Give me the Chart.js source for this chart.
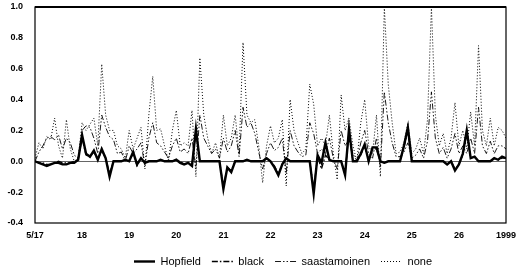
<!DOCTYPE html>
<html>
<head>
<meta charset="utf-8">
<script src="https://cdn.jsdelivr.net/npm/chart.js@4"></script>
<style>
  html, body { margin: 0; padding: 0; background: #fff; }
  #wrap { width: 518px; height: 274px; }
</style>
</head>
<body>
<div id="wrap"><canvas id="myChart" width="518" height="274"></canvas></div>
<script>
// day labels on the x axis, 12 samples per day
var tickLabels = ['5/17', '18', '19', '20', '21', '22', '23', '24', '25', '26', '1999'];
var perDay = 12;
var yTicks = [-0.4, -0.2, 0.0, 0.2, 0.4, 0.6, 0.8, 1.0];

var hopfield = [
  0, -0.01, -0.02, -0.03, -0.02, -0.01, -0.01, -0.02, -0.02, -0.01, -0.01, 0.01,
  0.17, 0.05, 0.03, 0.07, 0.01, 0.08, 0.02, -0.10, 0, 0, 0, 0.01,
  0, 0.06, -0.02, 0.02, -0.01, 0, 0, 0, 0.01, 0, 0, 0,
  0.01, -0.01, -0.02, -0.01, -0.03, 0.21, 0, 0, 0, 0, 0, 0,
  -0.18, -0.04, -0.07, 0, 0, 0, 0.01, 0, 0, 0, 0, 0.02,
  0, -0.04, -0.09, -0.02, 0.02, 0, 0, 0, 0, 0, 0, -0.21,
  0.04, -0.01, 0.12, 0.01, 0, 0, 0, -0.09, 0.21, 0, 0, 0.05,
  0.11, 0, 0.09, 0.09, 0, -0.01, 0, 0, 0, 0, 0.10, 0.22,
  0, 0, 0, 0, 0, 0, 0, 0, 0, -0.02, 0, -0.06,
  -0.02, 0.05, 0.20, 0.02, 0.03, 0, 0, 0, 0, 0.02, 0.01, 0.03,
  0.02
];

var black = [
  0, -0.01, -0.01, -0.02, -0.02, -0.01, 0, -0.01, -0.01, -0.01, 0, 0.01,
  0.15, 0.04, 0.03, 0.06, 0.01, 0.07, 0.02, -0.08, 0, 0, 0, 0.01,
  0, 0.05, -0.03, 0.02, -0.01, 0, 0, 0, 0.01, 0, 0, 0,
  0.01, 0, -0.02, -0.01, -0.02, 0.19, 0, 0, 0, 0, 0, 0,
  -0.16, -0.04, -0.06, 0, 0, 0, 0.01, 0, 0, 0, 0, 0.02,
  0, -0.03, -0.08, -0.02, 0.02, 0, 0, 0, 0, 0, 0, -0.18,
  0.03, -0.05, 0.04, 0.01, 0, 0, 0, -0.08, 0.19, 0, 0, 0.04,
  0.10, 0, 0.08, 0.08, 0, -0.01, 0, 0, 0, 0, 0.09, 0.20,
  0, 0, 0, 0, 0, 0, 0, 0, 0, -0.02, 0, -0.05,
  -0.02, 0.04, 0.18, 0.02, 0.03, 0, 0, 0, 0, 0.02, 0.01, 0.02,
  0.02
];

var saastamoinen = [
  0.0, 0.06, 0.10, 0.15, 0.16, 0.14, 0.17, 0.08, 0.15, 0.12, 0.04, 0.02,
  0.20, 0.23, 0.22, 0.15, 0.05, 0.30, 0.22, 0.16, 0.14, 0.05, 0.06, 0.00,
  0.10, 0.05, 0.08, 0.12, -0.03, 0.15, 0.25, 0.12, 0.10, 0.06, 0.02, 0.10,
  0.15, 0.06, 0.08, 0.05, 0.15, -0.05, 0.30, 0.15, 0.10, 0.05, 0.08, 0.02,
  0.15, 0.06, 0.10, 0.20, 0.03, 0.35, 0.22, 0.25, 0.18, 0.06, -0.05, 0.05,
  0.12, 0.07, 0.09, 0.15, -0.08, 0.20, 0.10, 0.06, 0.03, 0.04, 0.25, 0.18,
  0.05, 0.08, 0.05, 0.15, 0.02, -0.05, 0.20, 0.10, 0.14, 0.05, 0.00, 0.12,
  0.20, 0.05, 0.02, 0.15, -0.04, 0.45, 0.25, 0.12, 0.03, 0.03, 0.06, 0.12,
  0.02, 0.04, 0.08, 0.02, 0.13, 0.45, 0.15, 0.05, 0.09, 0.02, 0.08, 0.18,
  0.05, 0.10, 0.05, 0.15, 0.05, 0.35, 0.10, 0.05, 0.13, 0.05, 0.10, 0.10,
  0.08
];

var none = [
  0.02, 0.12, 0.08, 0.16, 0.14, 0.28, 0.10, 0.02, 0.27, 0.08, 0.00, 0.02,
  0.25, 0.20, 0.24, 0.28, 0.10, 0.63, 0.30, 0.20, 0.20, 0.10, 0.08, 0.02,
  0.20, 0.08, 0.15, 0.22, -0.05, 0.30, 0.55, 0.20, 0.21, 0.10, 0.00, 0.20,
  0.33, 0.10, 0.12, 0.10, 0.33, -0.10, 0.67, 0.30, 0.15, 0.05, 0.12, 0.02,
  0.30, 0.10, 0.15, 0.30, 0.05, 0.77, 0.30, 0.25, 0.27, 0.10, -0.14, 0.10,
  0.23, 0.12, 0.15, 0.27, -0.16, 0.40, 0.20, 0.12, 0.05, 0.08, 0.50, 0.37,
  0.10, 0.15, 0.10, 0.30, 0.05, -0.12, 0.43, 0.20, 0.28, 0.10, 0.00, 0.25,
  0.40, 0.10, 0.05, 0.30, -0.10, 1.00, 0.50, 0.25, 0.05, 0.06, 0.12, 0.25,
  0.05, 0.08, 0.15, 0.05, 0.27, 1.00, 0.30, 0.10, 0.18, 0.05, 0.15, 0.38,
  0.10, 0.20, 0.08, 0.32, 0.10, 0.75, 0.20, 0.10, 0.28, 0.10, 0.22, 0.20,
  0.15
];

function toPoints(arr) {
  return arr.map(function (v, i) { return { x: i, y: v }; });
}

function line(label, arr, width, dash) {
  return {
    label: label,
    data: toPoints(arr),
    borderColor: '#000',
    backgroundColor: '#000',
    borderWidth: width,
    borderDash: dash,
    pointRadius: 0,
    tension: 0,
    fill: false
  };
}

// frame around the plot area, legend nudged right like the original
var frame = {
  id: 'frame',
  afterLayout: function (chart) {
    chart.legend.left += 30;
    chart.legend.right += 30;
  },
  beforeDatasetsDraw: function (chart) {
    var a = chart.chartArea, c = chart.ctx;
    c.save();
    c.strokeStyle = '#000';
    c.lineWidth = 1.2;
    c.strokeRect(a.left, a.top, a.right - a.left, a.bottom - a.top);
    c.lineWidth = 2;
    c.beginPath();
    c.moveTo(a.left, a.top);
    c.lineTo(a.right, a.top);
    c.stroke();
    c.restore();
  }
};

var clear = 'rgba(0,0,0,0)';

var ctx = document.getElementById('myChart').getContext('2d');
var chart = new Chart(ctx, {
  type: 'line',
  data: {
    datasets: [
      line('Hopfield', hopfield, 2.4, []),
      line('black', black, 1.3, [6, 2, 1.5, 2]),
      line('saastamoinen', saastamoinen, 0.9, [6, 2, 1.5, 2, 1.5, 2]),
      line('none', none, 1, [1, 2])
    ]
  },
  plugins: [frame],
  options: {
    responsive: false,
    animation: false,
    layout: { padding: { left: 0, right: 12, top: 7, bottom: -3 } },
    plugins: {
      tooltip: { enabled: false },
      legend: {
        position: 'bottom',
        labels: {
          color: '#000',
          font: { family: 'Liberation Sans', size: 11 },
          usePointStyle: true,
          pointStyleWidth: 21,
          boxHeight: 8,
          padding: 11,
          generateLabels: function (chart) {
            return chart.data.datasets.map(function (ds, i) {
              return {
                text: ds.label,
                datasetIndex: i,
                pointStyle: 'line',
                strokeStyle: '#000',
                fillStyle: '#000',
                lineWidth: ds.borderWidth,
                lineDash: ds.borderDash,
                fontColor: '#000'
              };
            });
          }
        }
      }
    },
    scales: {
      x: {
        type: 'linear',
        min: 0,
        max: (tickLabels.length - 1) * perDay,
        grid: { display: true, drawOnChartArea: false, drawTicks: true, tickLength: 7, color: clear, tickColor: clear },
        border: { display: false },
        afterBuildTicks: function (scale) {
          scale.ticks = tickLabels.map(function (t, i) { return { value: i * perDay }; });
        },
        ticks: {
          color: '#000',
          padding: 0,
          maxRotation: 0,
          autoSkip: false,
          font: { family: 'Liberation Sans', size: 9, weight: 'bold' },
          callback: function (v) { return tickLabels[Math.round(v / perDay)]; }
        },
        afterFit: function (scale) { scale.height = 22; }
      },
      y: {
        min: yTicks[0],
        max: yTicks[yTicks.length - 1],
        grid: {
          drawTicks: true,
          tickLength: 12,
          tickColor: clear,
          color: function (c) { return c.tick && Math.abs(c.tick.value) < 1e-9 ? '#666' : clear; },
          lineWidth: 1
        },
        border: { display: false },
        afterBuildTicks: function (scale) {
          scale.ticks = yTicks.map(function (v) { return { value: v }; });
        },
        ticks: {
          color: '#000',
          padding: 0,
          font: { family: 'Liberation Sans', size: 9, weight: 'bold' },
          callback: function (v) { return v.toFixed(1); }
        },
        afterFit: function (scale) { scale.width = 35; }
      }
    }
  }
});
</script>
</body>
</html>
